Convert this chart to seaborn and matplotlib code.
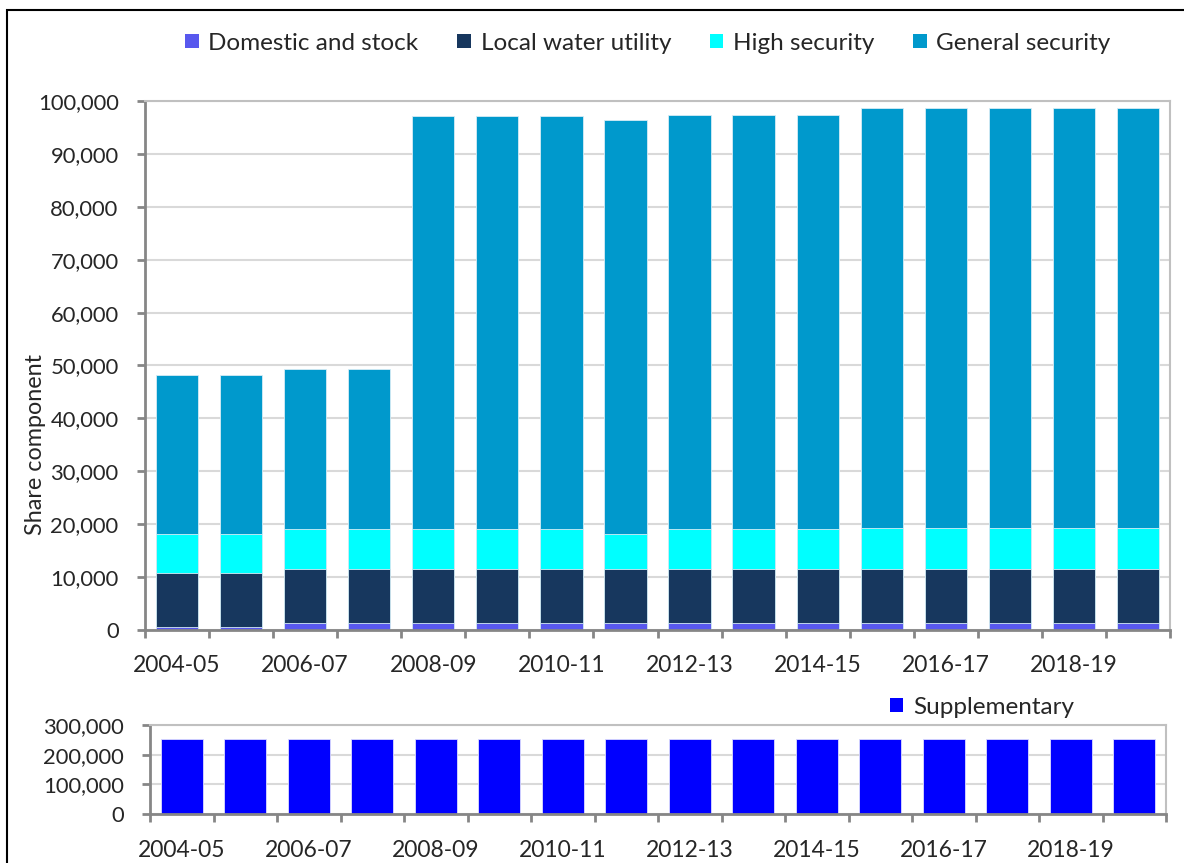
import numpy as np
import pandas as pd
import matplotlib
matplotlib.use("Agg")
import matplotlib.pyplot as plt
import seaborn as sns
from matplotlib.patches import Patch, Rectangle
from matplotlib.ticker import FuncFormatter, FixedLocator

# Data
years = ['2004-05', '2005-06', '2006-07', '2007-08', '2008-09', '2009-10', '2010-11',
         '2011-12', '2012-13', '2013-14', '2014-15', '2015-16', '2016-17', '2017-18',
         '2018-19', '2019-20']
domestic = [600, 600] + [1300] * 14
local_utility = [10200] * 16
high_security = [7300, 7300, 7550, 7550, 7550, 7550, 7550, 6600, 7550, 7550, 7550,
                 7700, 7700, 7700, 7700, 7700]
general_security = [30100, 30100, 30250, 30250, 78050, 78050, 78050, 78300, 78300,
                    78300, 78300, 79550, 79550, 79550, 79550, 79550]
supplementary = [252000] * 16

series_names = ['Domestic and stock', 'Local water utility', 'High security', 'General security']
series_vals = [domestic, local_utility, high_security, general_security]
colors = ['#5858EE', '#17375E', '#00FFFF', '#0099CC']
supp_color = '#0000FF'

sns.set_theme(style='white')
plt.rcParams['font.family'] = ['Lato', 'DejaVu Sans']
plt.rcParams['text.color'] = '#262626'

W, H = 1184, 863
fig = plt.figure(figsize=(W / 100, H / 100), dpi=100)
ax = fig.add_axes([145 / W, 1 - 630 / H, (1170 - 145) / W, (630 - 101) / H])
ax2 = fig.add_axes([150 / W, 1 - 814 / H, (1166 - 150) / W, (814 - 725) / H])

bar_w = 0.66
edge = '#d6ecf5'

# stacked bars: draw cumulative totals, tallest first
df = pd.DataFrame(dict(zip(series_names, series_vals)), index=years)
cum = df.cumsum(axis=1)
for name, col in reversed(list(zip(series_names, colors))):
    sns.barplot(x=cum.index, y=cum[name].values, color=col, saturation=1,
                width=bar_w, order=years, ax=ax, edgecolor=edge, linewidth=0.6)

sns.barplot(x=years, y=supplementary, color=supp_color, saturation=1,
            width=bar_w, order=years, ax=ax2, edgecolor='#dcdcff', linewidth=0.6)

fmt = FuncFormatter(lambda v, p: f'{int(v):,}')
grey = '#868686'


def style_axis(a, ymax, ystep, xpad):
    a.set_ylim(0, ymax)
    a.set_xlim(-0.5, len(years) - 0.5)
    a.yaxis.set_major_locator(FixedLocator(np.arange(0, ymax + 1, ystep)))
    a.yaxis.set_major_formatter(fmt)
    a.set_xticks(range(0, len(years), 2))
    a.set_xticklabels(years[::2])
    a.xaxis.set_minor_locator(FixedLocator(np.arange(-0.5, len(years), 1.0)))
    a.tick_params(axis='x', which='major', length=0, pad=xpad, labelsize=16.5)
    a.tick_params(axis='x', which='minor', length=6, width=2, color=grey, direction='out',
                  bottom=True)
    a.tick_params(axis='y', which='major', length=6, width=2, color=grey, direction='out',
                  pad=13, labelsize=15.8, left=True)
    a.grid(axis='y', color='#d9d9d9', linewidth=1.5)
    a.set_axisbelow(True)
    for s in ['left', 'bottom']:
        a.spines[s].set_color(grey)
        a.spines[s].set_linewidth(2)
    for s in ['top', 'right']:
        a.spines[s].set_color('#c0c0c0')
        a.spines[s].set_linewidth(1.5)
    a.set_xlabel('')
    a.set_ylabel('')


style_axis(ax, 100000, 10000, 18)
style_axis(ax2, 300000, 100000, 19)
ax.set_ylabel('Share component', fontsize=16.8)
ax.yaxis.set_label_coords(-0.097, 0.35)

handles = [Patch(facecolor=c, edgecolor='none') for c in colors]
fig.legend(handles, series_names, loc='center', ncol=4, frameon=False,
           bbox_to_anchor=(648 / W, 1 - 43 / H), fontsize=17.5, handlelength=0.55,
           handleheight=0.55, handletextpad=0.4, columnspacing=1.6)
fig.legend([Patch(facecolor=supp_color, edgecolor='none')], ['Supplementary'],
           loc='center left', frameon=False, bbox_to_anchor=(868 / W, 1 - 707 / H),
           fontsize=17.5, handlelength=0.55, handleheight=0.55, handletextpad=0.4)

# outer chart border
fig.patches.append(Rectangle((7 / W, -0.1), 1.0, 1.1 - 10 / H, transform=fig.transFigure,
                             fill=False, edgecolor='black', linewidth=1.5))

fig.savefig('out.png', dpi=100)
